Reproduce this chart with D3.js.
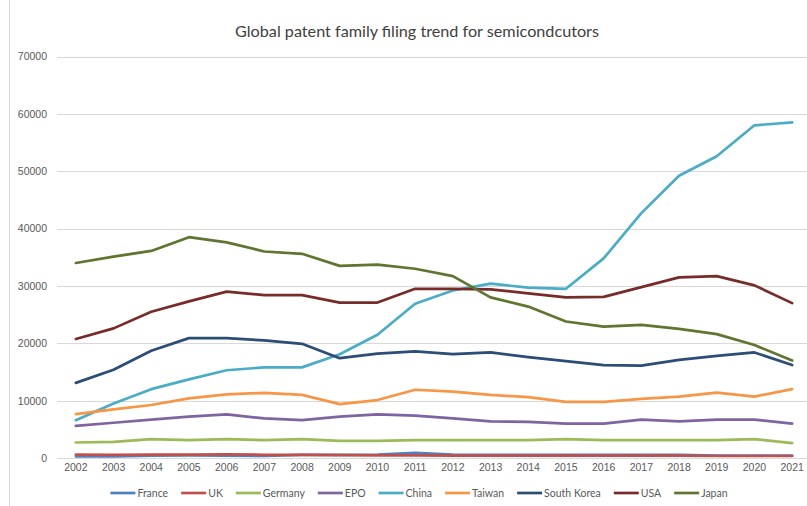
<!DOCTYPE html>
<html lang="en">
<head>
<meta charset="utf-8">
<script src="https://d3js.org/d3.v7.min.js"></script>
<style>
  body { margin: 0; background: #fff; }
  svg { font-family: Lato, "Open Sans", sans-serif; }
  .axis text { fill: #595959; font-size: 10.5px; }
  .axis path { display: none; }
  .axis line { display: none; }
  .grid line { stroke: #d9d9d9; stroke-width: 1; }
  .series { fill: none; stroke-width: 2.7; stroke-linejoin: round; stroke-linecap: round; }
</style>
</head>
<body>
<svg width="807" height="506"></svg>
<script>
// years on the category axis
var years = ["2002","2003","2004","2005","2006","2007","2008","2009","2010","2011",
             "2012","2013","2014","2015","2016","2017","2018","2019","2020","2021"];
var yTicks = [0, 10000, 20000, 30000, 40000, 50000, 60000, 70000];

// values
var france     = [300, 300, 400, 450, 400, 350, 550, 550, 600, 900, 600, 550, 550, 550, 550, 550, 550, 400, 400, 400];
var uk         = [600, 550, 600, 600, 650, 550, 550, 500, 450, 450, 400, 400, 400, 400, 400, 400, 400, 350, 350, 350];
var germany    = [2700, 2800, 3300, 3100, 3300, 3100, 3300, 3000, 3000, 3100, 3100, 3100, 3100, 3300, 3100, 3100, 3100, 3100, 3300, 2600];
var epo        = [5600, 6150, 6700, 7200, 7600, 6900, 6600, 7200, 7600, 7400, 6900, 6400, 6300, 6000, 6000, 6700, 6400, 6700, 6700, 6000];
var china      = [6600, 9500, 12000, 13700, 15300, 15800, 15800, 18100, 21500, 26900, 29200, 30400, 29700, 29500, 34800, 42700, 49200, 52600, 58000, 58500];
var taiwan     = [7660, 8480, 9240, 10400, 11100, 11350, 11000, 9400, 10100, 11900, 11580, 11000, 10600, 9800, 9800, 10300, 10700, 11400, 10700, 12000];
var southKorea = [13100, 15400, 18700, 20900, 20900, 20500, 19900, 17400, 18200, 18600, 18100, 18400, 17600, 16900, 16200, 16100, 17100, 17800, 18400, 16200];
var usa        = [20750, 22600, 25500, 27300, 29000, 28400, 28400, 27100, 27100, 29500, 29500, 29400, 28700, 28000, 28100, 29800, 31500, 31700, 30100, 27000];
var japan      = [34000, 35100, 36100, 38500, 37600, 36000, 35600, 33500, 33700, 33000, 31700, 28000, 26400, 23800, 22900, 23200, 22500, 21600, 19700, 17000];

var seriesNames = ["France", "UK", "Germany", "EPO", "China", "Taiwan", "South Korea", "USA", "Japan"];
var seriesValues = [france, uk, germany, epo, china, taiwan, southKorea, usa, japan];
var colors = ["#4f81bd", "#c0504d", "#9bbb59", "#8064a2", "#4bacc6", "#f79646", "#2c4d75", "#772c2a", "#5f7530"];

var svg = d3.select("svg");

// chart frame edge on the left
svg.append("line")
    .attr("x1", 9.5).attr("x2", 9.5)
    .attr("y1", 0).attr("y2", 506)
    .attr("stroke", "#d9d9d9");

//title
svg.append("text")
    .attr("x", 417)
    .attr("y", 37)
    .attr("text-anchor", "middle")
    .attr("fill", "#404040")
    .style("font-size", "16.2px")
    .text("Global patent family filing trend for semicondcutors");

var plotLeft = 57, plotRight = 811, plotTop = 56.5, plotBottom = 458;

var x = d3.scaleBand().domain(years).range([plotLeft, plotRight]);
var y = d3.scaleLinear().domain([0, 70000]).range([plotBottom, plotTop]);

//gridlines
svg.append("g")
    .attr("class", "grid")
    .selectAll("line")
    .data(yTicks)
    .enter().append("line")
    .attr("x1", plotLeft).attr("x2", plotRight)
    .attr("y1", function (d) { return Math.round(y(d)) + 0.5; })
    .attr("y2", function (d) { return Math.round(y(d)) + 0.5; });

//y axis labels
svg.append("g")
    .attr("class", "axis")
    .attr("transform", "translate(" + (plotLeft - 4) + ",0)")
    .call(d3.axisLeft(y).tickValues(yTicks).tickSize(0).tickPadding(6).tickFormat(d3.format("d")));

//x axis labels
svg.append("g")
    .attr("class", "axis")
    .attr("transform", "translate(0," + plotBottom + ")")
    .call(d3.axisBottom(x).tickSize(0).tickPadding(6));

var line = d3.line()
    .x(function (d, i) { return x(years[i]) + x.bandwidth() / 2; })
    .y(function (d) { return y(d); });

//draw series
svg.append("g")
    .selectAll("path")
    .data(seriesValues)
    .enter().append("path")
    .attr("class", "series")
    .attr("stroke", function (d, i) { return colors[i]; })
    .attr("d", line);

//legend
var legend = svg.append("g").attr("transform", "translate(0,493)");
var items = legend.selectAll("g")
    .data(seriesNames)
    .enter().append("g");
items.append("line")
    .attr("x1", 0).attr("x2", 25)
    .attr("y1", 0).attr("y2", 0)
    .attr("stroke-width", 2.7)
    .attr("stroke", function (d, i) { return colors[i]; });
items.append("text")
    .attr("x", 27)
    .attr("y", 4)
    .attr("fill", "#595959")
    .style("font-size", "10.5px")
    .text(function (d) { return d; });

var pos = 0, offsets = [];
items.each(function () {
    offsets.push(pos);
    pos += 27 + this.querySelector("text").getComputedTextLength() + 13;
});
var total = pos - 13, start = 419 - total / 2;
items.attr("transform", function (d, i) { return "translate(" + (start + offsets[i]) + ",0)"; });
</script>
</body>
</html>
